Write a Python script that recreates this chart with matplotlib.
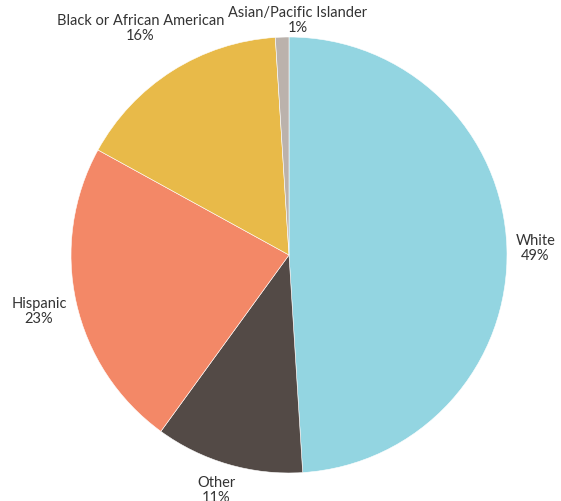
import matplotlib.pyplot as plt
import numpy as np

labels = ['White', 'Other', 'Hispanic', 'Black or African American',
          'Asian/Pacific Islander']
values = [49, 11, 23, 16, 1]
colors = ['#93D5E1', '#534A46', '#F38867', '#E8BA49', '#BBB2AC']

fig = plt.figure(figsize=(5.61, 5.02), dpi=100)
ax = fig.add_axes([71 / 561, 28 / 502, 436 / 561, 436 / 502])

wedges, _ = ax.pie(values, colors=colors, startangle=90, counterclock=False,
                   radius=1, wedgeprops=dict(edgecolor='white', linewidth=0.4))

# label positions around the pie
total = sum(values)
start = 90
extra = [1.13, 1.12, 1.17, 1.235, 1.08]
shift = [0, -0.02, -0.005, -0.02, 0.075]
for lab, val, d, dx in zip(labels, values, extra, shift):
    mid = np.deg2rad(start - 360 * val / total / 2)
    start -= 360 * val / total
    x, y = d * np.cos(mid) + dx, d * np.sin(mid)
    ax.text(x, y, f'{lab}\n{val}%', ha='center', va='center',
            fontsize=10.5, color='#333333', family='Lato', linespacing=1.1)

ax.set_xlim(-1, 1)
ax.set_ylim(-1, 1)
ax.set_aspect('equal')
ax.axis('off')

fig.savefig('out.png', dpi=100)
